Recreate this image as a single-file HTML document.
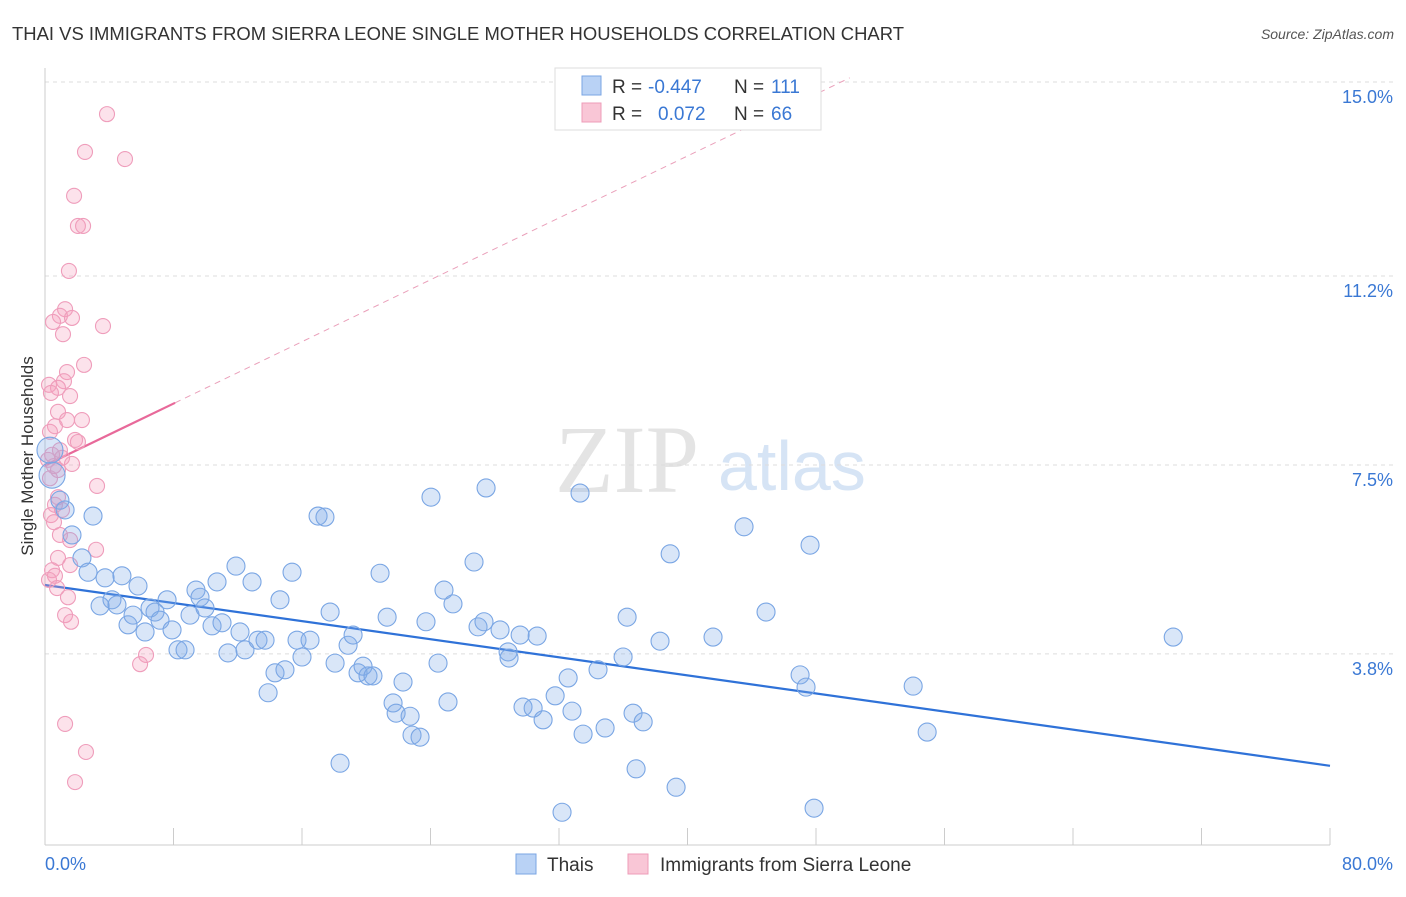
<!DOCTYPE html>
<html><head><meta charset="utf-8"><style>
body{margin:0;background:#fff;font-family:"Liberation Sans",sans-serif}
svg text{font-family:"Liberation Sans",sans-serif}
</style></head><body>
<svg id="chart" width="1406" height="892" viewBox="0 0 1406 892" xmlns="http://www.w3.org/2000/svg">
<text x="12" y="40" font-size="18.5" fill="#333" textLength="892" lengthAdjust="spacingAndGlyphs">THAI VS IMMIGRANTS FROM SIERRA LEONE SINGLE MOTHER HOUSEHOLDS CORRELATION CHART</text>
<text x="1394" y="39" font-size="14" fill="#555" text-anchor="end" font-style="italic">Source: ZipAtlas.com</text>
<g>
<text x="555" y="492" font-size="96" fill="#e4e4e4" style="font-family:'Liberation Serif',serif">ZIP</text>
<text x="718" y="490" font-size="70" fill="#d6e4f5">atlas</text></g>
<g id="grid"></g><g id="axes"></g><g id="trends"></g><g id="pts"></g>
<text transform="translate(33,456) rotate(-90)" font-size="17" fill="#333" text-anchor="middle">Single Mother Households</text>
<g>
<rect x="555" y="68" width="266" height="62" fill="#fff" stroke="#ddd"/>
<rect x="582" y="76" width="19" height="19" fill="#b9d2f5" stroke="#7aa5e3"/>
<rect x="582" y="103" width="19" height="19" fill="#f9c6d6" stroke="#ee9cb8"/>
<text x="612" y="93" font-size="19" fill="#333">R =</text>
<text x="648" y="93" font-size="19" fill="#3a78d4">-0.447</text>
<text x="734" y="93" font-size="19" fill="#333">N =</text>
<text x="771" y="93" font-size="19" fill="#3a78d4">111</text>
<text x="612" y="120" font-size="19" fill="#333">R =</text>
<text x="658" y="120" font-size="19" fill="#3a78d4">0.072</text>
<text x="734" y="120" font-size="19" fill="#333">N =</text>
<text x="771" y="120" font-size="19" fill="#3a78d4">66</text>
</g>
<g>
<rect x="516" y="854" width="20" height="20" fill="#b9d2f5" stroke="#7aa5e3"/>
<text x="547" y="871" font-size="19" fill="#333">Thais</text>
<rect x="628" y="854" width="20" height="20" fill="#f9c6d6" stroke="#ee9cb8"/>
<text x="660" y="871" font-size="19" fill="#333">Immigrants from Sierra Leone</text>
</g>
</svg>
<script>
const yTicks=[15.0,11.2,7.5,3.8];
const yTickLabels=["15.0%","11.2%","7.5%","3.8%"];
const xTicks=[0,8,16,24,32,40,48,56,64,72,80];
const blueX=[2.99,1.25,0.93,1.68,2.30,2.68,3.43,3.74,4.17,4.48,4.79,5.17,5.48,5.79,6.23,6.54,6.85,7.16,7.60,7.91,8.28,8.72,9.03,9.40,9.65,9.96,10.40,10.71,11.02,11.39,11.89,12.14,12.45,12.89,13.26,13.70,13.89,14.32,14.63,14.94,15.38,15.69,16.00,16.50,17.00,17.43,17.75,18.06,18.37,18.87,19.18,19.49,19.80,20.11,20.42,20.86,21.30,21.67,21.86,22.29,22.73,22.85,23.35,23.72,24.03,24.47,24.84,25.09,25.40,26.71,26.96,27.33,27.46,28.33,28.83,28.89,29.58,29.76,30.39,30.64,31.01,31.76,32.19,32.57,32.81,33.31,33.50,34.43,34.87,35.99,36.24,36.61,36.80,37.24,38.29,38.92,39.29,41.59,43.52,44.89,47.01,47.38,47.63,47.88,54.05,54.92,70.24,0.44,0.31];
const blueY=[6.50,6.62,6.81,6.13,5.68,5.40,4.74,5.29,4.86,4.76,5.33,4.37,4.56,5.13,4.23,4.70,4.62,4.46,4.86,4.27,3.88,3.88,4.56,5.05,4.91,4.70,4.35,5.21,4.41,3.82,5.52,4.23,3.88,5.21,4.07,4.07,3.04,3.43,4.86,3.49,5.40,4.07,3.74,4.07,6.50,6.48,4.62,3.62,1.66,3.97,4.17,3.43,3.56,3.37,3.37,5.38,4.52,2.84,2.64,3.25,2.58,2.21,2.17,4.43,6.87,3.62,5.05,2.86,4.78,5.60,4.33,4.43,7.05,4.27,3.84,3.72,4.17,2.76,2.74,4.15,2.51,2.98,0.70,3.33,2.68,6.95,2.23,3.49,2.35,3.74,4.52,2.64,1.55,2.47,4.05,5.76,1.19,4.13,6.29,4.62,3.39,3.15,5.93,0.78,3.17,2.27,4.13,7.30,7.79];
const pinkX=[3.86,2.49,4.98,1.81,2.05,2.37,1.49,1.25,0.93,1.68,0.50,3.61,1.12,2.43,1.37,1.18,0.25,0.81,0.37,1.56,0.81,2.30,0.62,1.37,0.31,1.87,2.05,0.93,1.06,0.19,1.68,0.56,0.31,3.24,0.81,0.62,1.06,0.37,0.56,0.93,1.56,3.18,0.81,1.56,0.44,0.62,0.25,0.75,1.43,1.25,1.62,6.29,5.92,1.25,2.55,1.87,0.44,0.81];
const pinkY=[14.37,13.63,13.49,12.77,12.18,12.18,11.30,10.55,10.42,10.38,10.30,10.22,10.06,9.46,9.32,9.14,9.07,9.01,8.91,8.85,8.54,8.38,8.26,8.38,8.15,7.99,7.95,7.79,7.64,7.60,7.52,7.48,7.24,7.09,6.87,6.72,6.62,6.52,6.38,6.13,6.03,5.84,5.68,5.54,5.44,5.33,5.25,5.09,4.91,4.56,4.43,3.78,3.60,2.43,1.88,1.29,7.70,7.40];
const blueTrend=[5.15,1.61];
const pinkTrend=[7.49,0.1515];
const NS="http://www.w3.org/2000/svg";
const X=v=>45+v*1285/80, Y=v=>848-v*51.07;
function mk(t,a,p){const e=document.createElementNS(NS,t);for(const k in a)e.setAttribute(k,a[k]);document.getElementById(p).appendChild(e);return e;}
yTicks.forEach((t,i)=>{
 const l=mk('line',{x1:45,x2:1395,y1:Y(t),y2:Y(t),stroke:'#ddd','stroke-dasharray':'4,4'},'grid');
 
 
 const tx=mk('text',{x:1393,y:Y(t)+21,'font-size':18,fill:'#3a78d4','text-anchor':'end'},'axes');
 tx.textContent=yTickLabels[i];
 
 
});
const ax=mk('line',{x1:45,x2:1330,y1:845,y2:845,stroke:'#ccc'},'axes');


const ay=mk('line',{x1:45,x2:45,y1:68,y2:845,stroke:'#ccc'},'axes');


xTicks.forEach(t=>{const l=mk('line',{x1:X(t),x2:X(t),y1:828,y2:845,stroke:'#ccc'},'axes');
 
 });
const xl0=mk('text',{x:45,y:870,'font-size':18,fill:'#3a78d4'},'axes');xl0.textContent="0.0%";


const xl1=mk('text',{x:1393,y:870,'font-size':18,fill:'#3a78d4','text-anchor':'end'},'axes');xl1.textContent="80.0%";


pinkX.forEach((x,i)=>{const c=mk('circle',{cx:X(x),cy:Y(pinkY[i]),r:7.5,fill:'rgba(244,160,190,0.3)',stroke:'#ef9dbb','stroke-width':1.1},'pts');
 
 });
blueX.forEach((x,i)=>{const big=i>=blueX.length-2;const c=mk('circle',{cx:X(x),cy:Y(blueY[i]),r:big?13:9,fill:'rgba(130,172,232,0.3)',stroke:'#7aa6e4','stroke-width':1.1},'pts');
 
 });
const bt=mk('line',{x1:X(0),y1:Y(blueTrend[0]),x2:X(80),y2:Y(blueTrend[1]),stroke:'#2f72d8','stroke-width':2.2},'trends');


const pd=mk('line',{x1:X(8.1),y1:Y(pinkTrend[0]+pinkTrend[1]*8.1),x2:X(50.1),y2:Y(pinkTrend[0]+pinkTrend[1]*50.1),stroke:'#eaa0ba','stroke-width':1,'stroke-dasharray':'6,5'},'trends');


const pt=mk('line',{x1:X(0),y1:Y(pinkTrend[0]),x2:X(8.1),y2:Y(pinkTrend[0]+pinkTrend[1]*8.1),stroke:'#e8699a','stroke-width':2.2},'trends');


</script>
</body></html>
